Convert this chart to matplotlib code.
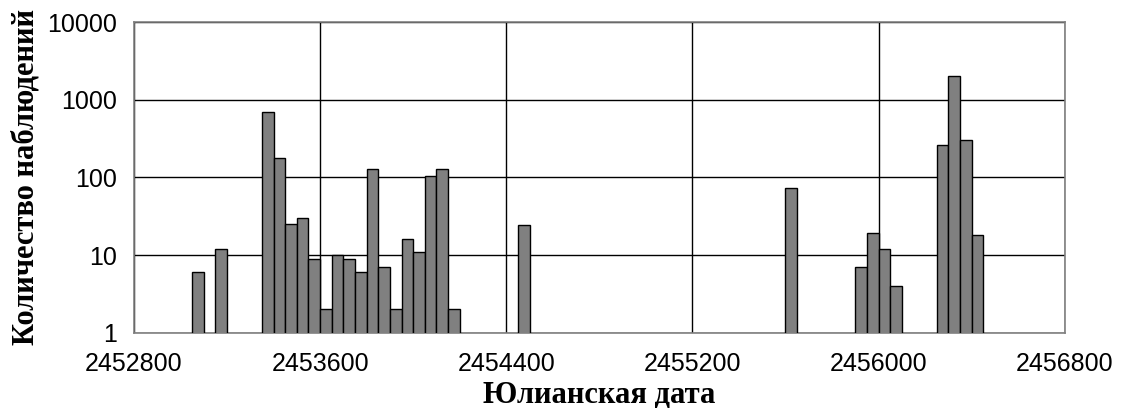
import numpy as np
import matplotlib
matplotlib.use("Agg")
import matplotlib.pyplot as plt
from matplotlib.ticker import FixedLocator, FixedFormatter

# left edges of the 50-day bins (JD) and number of observations in each
bin_start = [2453050, 2453150,
             2453350, 2453400, 2453450, 2453500, 2453550, 2453600, 2453650,
             2453700, 2453750, 2453800, 2453850, 2453900, 2453950, 2454000,
             2454050, 2454100, 2454150,
             2454450,
             2455600,
             2455900, 2455950, 2456000, 2456050,
             2456250, 2456300, 2456350, 2456400]
counts = [6, 12,
          700, 175, 25, 30, 9, 2, 10,
          9, 6, 128, 7, 2, 16, 11,
          104, 130, 2,
          24,
          73,
          7, 19, 12, 4,
          260, 2000, 300, 18]
bin_width = 50

x_ticks = [2452800, 2453600, 2454400, 2455200, 2456000, 2456800]
y_ticks = [1, 10, 100, 1000, 10000]

fig = plt.figure(figsize=(11.25, 4.08), dpi=100)
ax = fig.add_axes([0.1191, 0.1846, 0.9464 - 0.1191, 0.946 - 0.1846])

ax.set_yscale('log')
ax.bar(bin_start, counts, width=bin_width, align='edge',
       color='#808080', edgecolor='black', linewidth=1.0, zorder=3)
ax.set_ylim(1, 10000)
ax.set_xlim(2452800, 2456800)

ax.yaxis.set_major_locator(FixedLocator(y_ticks))
ax.yaxis.set_major_formatter(FixedFormatter([str(v) for v in y_ticks]))
ax.yaxis.set_minor_locator(FixedLocator([]))
ax.set_xticks(x_ticks)
ax.set_xticklabels([str(v) for v in x_ticks])

ax.grid(True, color='black', linewidth=1.0, zorder=0)
ax.tick_params(length=0, labelsize=18)
ax.tick_params(axis='x', pad=14)
ax.tick_params(axis='y', pad=12)
for lbl in ax.get_xticklabels() + ax.get_yticklabels():
    lbl.set_family('Liberation Sans')
for s in ax.spines.values():
    s.set_color('#808080')
    s.set_linewidth(1.2)

ax.set_ylabel('Количество наблюдений', family='Liberation Serif',
              fontweight='bold', fontsize=22, labelpad=5)
ax.set_xlabel('Юлианская дата', family='Liberation Serif',
              fontweight='bold', fontsize=22, labelpad=3)

fig.savefig('out.png', dpi=100)
